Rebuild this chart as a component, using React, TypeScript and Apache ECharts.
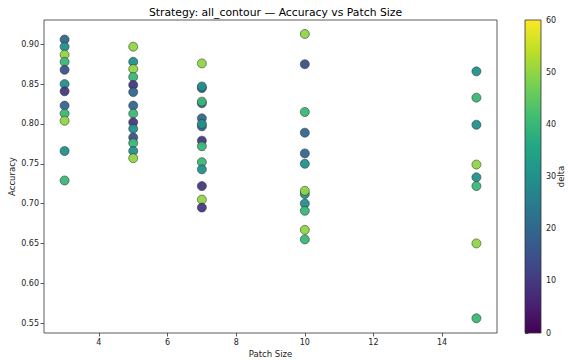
import React, { useEffect, useRef } from "react";
import * as echarts from "echarts";

const title = "Strategy: all_contour — Accuracy vs Patch Size";
const xName = "Patch Size";
const yName = "Accuracy";
const cbName = "delta";

const patchSizes = [3, 5, 7, 10, 15];

const acc3 = [0.906, 0.897, 0.887, 0.878, 0.868, 0.850, 0.841, 0.823, 0.813, 0.804, 0.766, 0.729];
const delta3 = [20, 30, 50, 40, 15, 30, 10, 20, 40, 50, 30, 40];

const acc5 = [0.897, 0.878, 0.869, 0.859, 0.849, 0.840, 0.823, 0.813, 0.802, 0.794, 0.783, 0.776, 0.766, 0.757];
const delta5 = [50, 30, 50, 40, 10, 20, 20, 40, 10, 30, 15, 40, 30, 50];

const acc7 = [0.876, 0.845, 0.847, 0.826, 0.828, 0.807, 0.797, 0.800, 0.779, 0.772, 0.752, 0.743, 0.722, 0.705, 0.695];
const delta7 = [50, 20, 30, 20, 40, 20, 20, 30, 10, 40, 40, 30, 10, 50, 10];

const acc10 = [0.913, 0.875, 0.815, 0.789, 0.763, 0.750, 0.712, 0.716, 0.700, 0.691, 0.667, 0.655];
const delta10 = [50, 15, 40, 20, 20, 30, 30, 50, 30, 40, 50, 40];

const acc15 = [0.866, 0.833, 0.799, 0.749, 0.733, 0.722, 0.650, 0.556];
const delta15 = [30, 40, 30, 50, 30, 40, 50, 40];

const accuracies = [acc3, acc5, acc7, acc10, acc15];
const deltas = [delta3, delta5, delta7, delta10, delta15];

const xTicks = [4, 6, 8, 10, 12, 14];
const yTicks = [0.55, 0.6, 0.65, 0.7, 0.75, 0.8, 0.85, 0.9];
const deltaMin = 0;
const deltaMax = 60;

const viridis = [
  "#440154", "#482475", "#414487", "#355f8d", "#2a788e",
  "#21918c", "#22a884", "#44bf70", "#7ad151", "#bddf26", "#fde725",
];

export default function App() {
  const ref = useRef<HTMLDivElement>(null);
  useEffect(() => {
    document.body.style.margin = "0";
    if (!ref.current) return;
    const chart = echarts.init(ref.current, undefined, { renderer: "svg" });

    const points: number[][] = [];
    patchSizes.forEach((p, i) => {
      accuracies[i].forEach((a, j) => points.push([p, a, deltas[i][j]]));
    });

    const font = "DejaVu Sans";
    const textColor = "#222";
    const left = 44, top = 20, width = 453, height = 313;
    const cbLeft = 525, cbWidth = 16;
    const nameFont = `8.5px "${font}"`;

    chart.setOption({
      animation: false,
      backgroundColor: "#fff",
      textStyle: { fontFamily: font },
      title: {
        text: title,
        left: left + width / 2,
        textAlign: "center",
        top: 2,
        textStyle: { fontFamily: font, fontSize: 10.8, fontWeight: "normal", color: "#000" },
      },
      grid: [
        {
          left, top, width, height,
          containLabel: false,
          outerBoundsMode: "none",
          show: true, borderColor: "#333", borderWidth: 0.8, backgroundColor: "transparent",
        },
        { left: cbLeft, top, width: cbWidth, height, containLabel: false, outerBoundsMode: "none" },
      ],
      xAxis: [
        {
          type: "value",
          gridIndex: 0,
          min: 2.4,
          max: 15.6,
          axisLine: { show: false },
          splitLine: { show: false },
          axisTick: { show: true, customValues: xTicks, length: 3.5, lineStyle: { color: "#333", width: 0.8 } },
          axisLabel: { customValues: xTicks, fontFamily: font, fontSize: 8, color: textColor, margin: 5 },
        },
        { type: "value", gridIndex: 1, show: false, min: 0, max: 1 },
      ],
      yAxis: [
        {
          type: "value",
          gridIndex: 0,
          min: 0.5375,
          max: 0.9305,
          axisLine: { show: false },
          splitLine: { show: false },
          axisTick: { show: true, customValues: yTicks, length: 3.5, lineStyle: { color: "#333", width: 0.8 } },
          axisLabel: {
            customValues: yTicks,
            fontFamily: font,
            fontSize: 8,
            color: textColor,
            margin: 5,
            formatter: (v: number) => v.toFixed(2),
          },
        },
        {
          type: "value",
          gridIndex: 1,
          position: "right",
          min: deltaMin,
          max: deltaMax,
          interval: 10,
          axisLine: { show: false },
          splitLine: { show: false },
          axisTick: { show: true, length: 3.5, lineStyle: { color: "#333", width: 0.8 } },
          axisLabel: { fontFamily: font, fontSize: 8, color: textColor, margin: 5 },
        },
      ],
      visualMap: {
        show: false,
        type: "continuous",
        min: deltaMin,
        max: deltaMax,
        dimension: 2,
        seriesIndex: 0,
        inRange: { color: viridis },
      },
      graphic: [
        {
          type: "rect",
          shape: { x: cbLeft, y: top, width: cbWidth, height },
          style: {
            fill: {
              type: "linear",
              x: 0, y: 1, x2: 0, y2: 0,
              colorStops: viridis.map((c, i) => ({ offset: i / (viridis.length - 1), color: c })),
            },
            stroke: "#333",
            lineWidth: 0.8,
          },
          z: 10,
        },
        {
          type: "text",
          x: left + width / 2,
          y: 354,
          style: { text: xName, font: nameFont, fill: textColor, align: "center", verticalAlign: "middle" },
        },
        {
          type: "text",
          x: 12,
          y: top + height / 2,
          rotation: Math.PI / 2,
          style: { text: yName, font: nameFont, fill: textColor, align: "center", verticalAlign: "middle" },
        },
        {
          type: "text",
          x: 561,
          y: top + height / 2,
          rotation: Math.PI / 2,
          style: { text: cbName, font: nameFont, fill: textColor, align: "center", verticalAlign: "middle" },
        },
      ],
      series: [
        {
          type: "scatter",
          xAxisIndex: 0,
          yAxisIndex: 0,
          data: points,
          symbolSize: 9,
          itemStyle: { borderColor: "#333", borderWidth: 0.6, opacity: 0.95 },
        },
        { type: "scatter", xAxisIndex: 1, yAxisIndex: 1, data: [] },
      ],
    });
    return () => chart.dispose();
  }, []);
  return <div ref={ref} style={{ width: 568, height: 360 }} />;
}
